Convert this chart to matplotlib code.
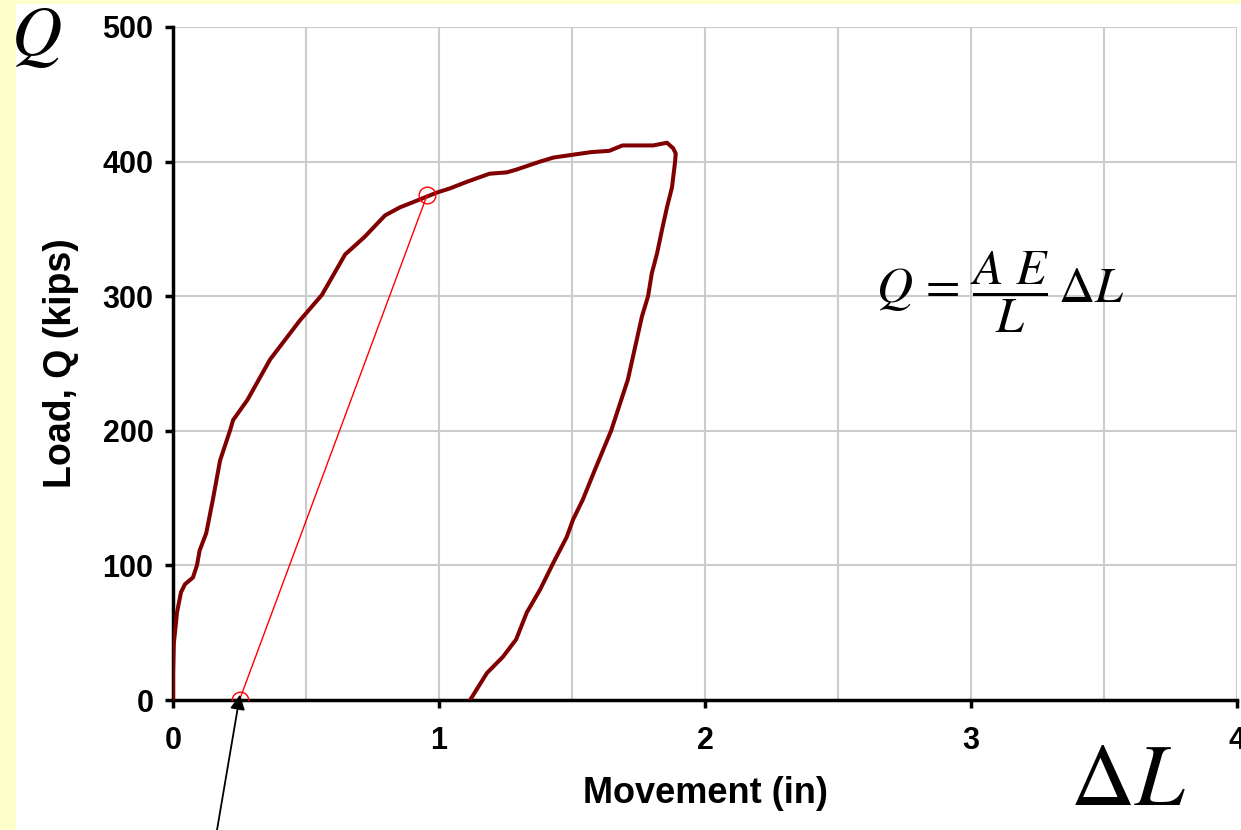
import matplotlib
matplotlib.use("Agg")
import matplotlib.pyplot as plt
from matplotlib.patches import Rectangle
from matplotlib.font_manager import FontProperties

# load-movement curve
movement = [0.0, 0.0, 0.003, 0.01, 0.015, 0.03, 0.045, 0.075, 0.09, 0.1, 0.125, 0.15,
            0.177, 0.214, 0.226, 0.28, 0.365, 0.477, 0.56, 0.647, 0.72, 0.797, 0.853,
            0.917, 0.992, 1.04, 1.105, 1.19, 1.255, 1.29, 1.38, 1.43, 1.5, 1.57, 1.64,
            1.69, 1.805, 1.857, 1.88, 1.89, 1.887, 1.876, 1.857, 1.838, 1.82, 1.80,
            1.786, 1.763, 1.71, 1.647, 1.586, 1.541, 1.504, 1.48, 1.43, 1.38, 1.33,
            1.29, 1.24, 1.18, 1.117]
load = [0, 20, 42, 55, 65, 80, 86, 91, 100, 111, 124, 149,
        178, 200, 208, 223, 253, 282, 301, 331, 344, 360, 366,
        371, 377, 380, 385, 391, 392, 394, 400, 403, 405, 407, 408,
        412, 412, 414, 410, 406, 399, 381, 366, 349, 332, 317,
        300, 285, 238, 200, 171, 149, 134, 121, 102, 82, 65,
        45, 32, 20, 0]

# elastic line between the two red circles
elastic_x = [0.25, 0.955]
elastic_y = [0, 375]

xticks = [0, 1, 2, 3, 4]
yticks = [0, 100, 200, 300, 400, 500]

plt.rcParams["mathtext.fontset"] = "stix"
bold = dict(family="Liberation Sans", weight="bold")

fig = plt.figure(figsize=(12.41, 8.30), dpi=100, facecolor="#FFFFCC")
fig.patches.append(Rectangle((16 / 1241, 0), 1, 1 - 4 / 830, transform=fig.transFigure,
                             facecolor="white", edgecolor="none", zorder=-10))

ax = fig.add_axes([173 / 1241, 1 - 700 / 830, (1237 - 173) / 1241, (700 - 27) / 830])
ax.set_facecolor("white")

ax.plot(movement, load, color="#800000", lw=2.9, solid_joinstyle="round", zorder=3)
ax.plot(elastic_x, elastic_y, color="red", lw=1.0, marker="o", markersize=12,
        markerfacecolor="none", markeredgecolor="red", markeredgewidth=1.0, zorder=4)

ax.set_xlim(0, 4)
ax.set_ylim(0, 500)
ax.set_xticks(xticks)
ax.set_xticks([0.5, 1.5, 2.5, 3.5], minor=True)
ax.set_yticks(yticks)
ax.grid(True, which="both", color="#CCCCCC", lw=1.5, zorder=0)
ax.set_axisbelow(True)
for s in ["top", "right"]:
    ax.spines[s].set_visible(False)
for s in ["left", "bottom"]:
    ax.spines[s].set_linewidth(2.5)
ax.tick_params(which="major", direction="out", length=6, width=2.5)
ax.tick_params(axis="x", which="major", pad=13)
ax.tick_params(axis="y", which="major", pad=8)
ax.tick_params(which="minor", length=0)
for lab in ax.get_xticklabels() + ax.get_yticklabels():
    lab.set_fontproperties(FontProperties(size=22, **bold))

ax.set_xlabel("Movement (in)", fontsize=26, labelpad=14, **bold)
ax.set_ylabel("Load, Q (kips)", fontsize=27, labelpad=17, **bold)

fig.text(1000 / 1241, 1 - 292 / 830, r"$Q\,=\,\dfrac{A\ E}{L}\,\Delta L$",
         fontsize=36, ha="center", va="center")
fig.text(36 / 1241, 1 - 36 / 830, r"$Q$", fontsize=50, ha="center", va="center")
fig.text(1128 / 1241, 1 - 780 / 830, r"$\Delta L$", fontsize=64, ha="center", va="center")

ax.annotate("", xy=(0.252, 4), xytext=(217 / 1241, 0), textcoords="figure fraction",
            arrowprops=dict(arrowstyle="-|>", color="black", lw=1.3, mutation_scale=22,
                            shrinkA=0, shrinkB=0),
            annotation_clip=False, zorder=5)

fig.savefig("out.png", dpi=100, facecolor=fig.get_facecolor())
